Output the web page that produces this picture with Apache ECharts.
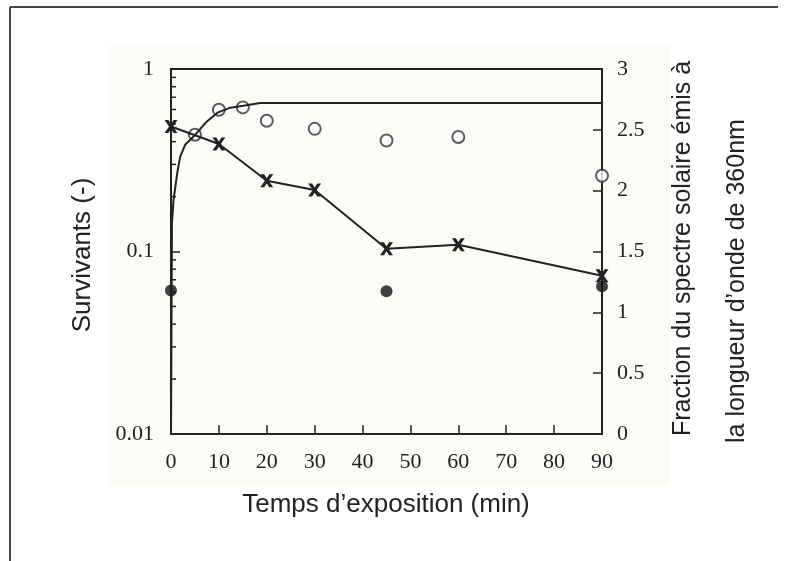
<!DOCTYPE html>
<html lang="fr">
<head>
<meta charset="UTF-8">
<title>Survivants</title>
<script src="https://cdn.jsdelivr.net/npm/echarts@6.0.0/dist/echarts.min.js"></script>
<style>
  html, body { margin: 0; padding: 0; background: #fff; }
  #chart { width: 786px; height: 561px; }
</style>
</head>
<body>
<div id="chart"></div>
<script>
// temps d'exposition (min)
const crossX = [0, 10, 20, 30, 45, 60, 90];
const crossY = [0.484, 0.388, 0.244, 0.217, 0.1035, 0.109, 0.0737];
const openX = [5, 10, 15, 20, 30, 45, 60, 90];
const openY = [0.436, 0.598, 0.616, 0.521, 0.470, 0.406, 0.424, 0.260];
const fillX = [0, 45, 90];
const fillY = [0.0612, 0.0605, 0.0644];
// courbe (axe de droite)
const curveX = [0, 0.2, 0.54, 0.9, 1.4, 1.94, 3, 5.07, 7.5, 9.7, 12.4, 15.1, 18.6, 90];
const curveY = [0, 1.737, 1.926, 2.03, 2.17, 2.282, 2.38, 2.46, 2.569, 2.641, 2.682, 2.698, 2.72, 2.72];
// graduations secondaires de l'axe log
const minorTicks = [0.02, 0.03, 0.04, 0.05, 0.06, 0.07, 0.08, 0.09,
                    0.2, 0.3, 0.4, 0.5, 0.6, 0.7, 0.8, 0.9];

const pair = (xs, ys) => xs.map((x, i) => [x, ys[i]]);
const ink = '#222';
const crossPath = 'path://M0,0 L3,0 L5,3 L7,0 L10,0 L6.5,5 L10,10 L7,10 L5,7 L3,10 L0,10 L3.5,5 Z';
const tickFont = { fontFamily: 'Liberation Serif', fontSize: 22, color: ink };
const titleFont = 'Liberation Sans';

const chart = echarts.init(document.getElementById('chart'));
chart.setOption({
  animation: false,
  backgroundColor: '#fff',
  graphic: [
    { type: 'rect', z: -10, shape: { x: 107, y: 46, width: 563, height: 440 },
      style: { fill: '#fbfbf8' } },
    { type: 'line', shape: { x1: 10, y1: 7, x2: 778, y2: 7 }, style: { stroke: '#444', lineWidth: 2 } },
    { type: 'line', shape: { x1: 10, y1: 7, x2: 10, y2: 561 }, style: { stroke: '#444', lineWidth: 2 } },
    { type: 'text', x: 386, y: 505, style: { text: 'Temps d’exposition (min)', font: '26px ' + titleFont,
      fill: ink, textAlign: 'center', textVerticalAlign: 'middle' } },
    { type: 'text', x: 83, y: 255, rotation: Math.PI / 2, style: { text: 'Survivants (-)', font: '26px ' + titleFont,
      fill: ink, textAlign: 'center', textVerticalAlign: 'middle' } },
    { type: 'text', x: 683, y: 436, rotation: Math.PI / 2, style: { text: 'Fraction du spectre solaire émis à',
      font: '25px ' + titleFont, fill: ink, textAlign: 'left', textVerticalAlign: 'middle' } },
    { type: 'text', x: 737, y: 443, rotation: Math.PI / 2, style: { text: 'la longueur d’onde de 360nm',
      font: '25px ' + titleFont, fill: ink, textAlign: 'left', textVerticalAlign: 'middle' } }
  ],
  grid: { left: 171, right: 184, top: 69, bottom: 127, show: true, borderColor: ink, borderWidth: 2,
    backgroundColor: 'transparent' },
  xAxis: {
    type: 'value', min: 0, max: 90, interval: 10,
    axisLine: { show: true, lineStyle: { color: ink, width: 2 } },
    axisTick: { show: true, inside: true, length: 9, lineStyle: { color: ink, width: 1.5 } },
    axisLabel: Object.assign({ margin: 17 }, tickFont),
    splitLine: { show: false }
  },
  yAxis: [
    {
      type: 'log', logBase: 10, min: 0.01, max: 1,
      axisLine: { show: true, lineStyle: { color: ink, width: 2 } },
      axisTick: { show: true, inside: true, length: 9, lineStyle: { color: ink, width: 1.5 } },
      axisLabel: Object.assign({ margin: 17 }, tickFont),
      splitLine: { show: false }
    },
    {
      type: 'value', min: 0, max: 3, interval: 0.5, position: 'right',
      axisLine: { show: true, lineStyle: { color: ink, width: 2 } },
      axisTick: { show: true, inside: true, length: 9, lineStyle: { color: ink, width: 1.5 } },
      axisLabel: Object.assign({ margin: 15 }, tickFont),
      splitLine: { show: false }
    }
  ],
  series: [
    {
      type: 'custom', xAxisIndex: 0, yAxisIndex: 0, silent: true,
      data: minorTicks.map(v => [0, v]),
      renderItem: (params, api) => {
        const p = api.coord([0, api.value(1)]);
        return { type: 'line', shape: { x1: p[0], y1: p[1], x2: p[0] + 5, y2: p[1] },
          style: { stroke: ink, lineWidth: 1.5 } };
      }
    },
    {
      name: 'courbe', type: 'line', yAxisIndex: 1, data: pair(curveX, curveY),
      showSymbol: false, lineStyle: { color: ink, width: 2 }
    },
    {
      name: 'croix', type: 'line', yAxisIndex: 0, data: pair(crossX, crossY),
      symbol: crossPath, symbolSize: 13, lineStyle: { color: ink, width: 2 },
      itemStyle: { color: ink }
    },
    {
      name: 'cercles', type: 'scatter', yAxisIndex: 0, data: pair(openX, openY),
      symbol: 'emptyCircle', symbolSize: 12, itemStyle: { color: '#333', borderWidth: 2 }
    },
    {
      name: 'points', type: 'scatter', yAxisIndex: 0, data: pair(fillX, fillY),
      symbol: 'circle', symbolSize: 12, itemStyle: { color: '#111' }
    }
  ]
});
</script>
</body>
</html>
